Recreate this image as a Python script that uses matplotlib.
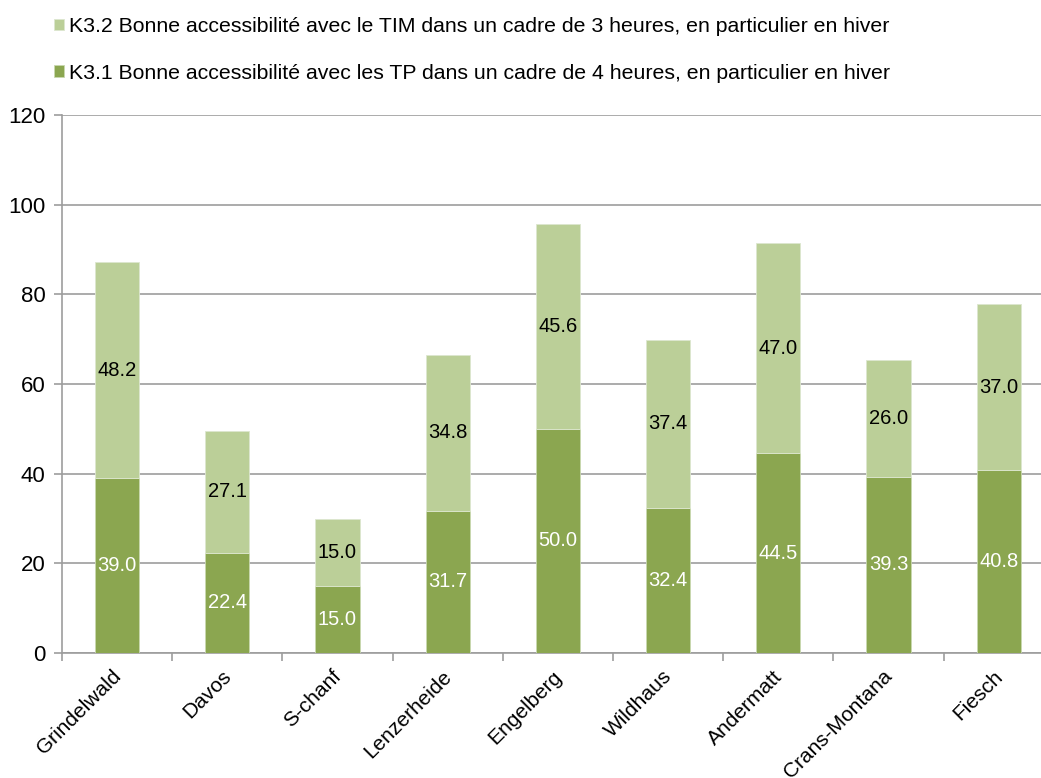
import matplotlib
matplotlib.use("Agg")
import matplotlib.pyplot as plt
import matplotlib.transforms as mtransforms
import numpy as np

plt.rcParams['font.family'] = ['Liberation Sans', 'DejaVu Sans']

categories = ["Grindelwald", "Davos", "S-chanf", "Lenzerheide", "Engelberg",
              "Wildhaus", "Andermatt", "Crans-Montana", "Fiesch"]
k31 = [39.0, 22.4, 15.0, 31.7, 50.0, 32.4, 44.5, 39.3, 40.8]
k32 = [48.2, 27.1, 15.0, 34.8, 45.6, 37.4, 47.0, 26.0, 37.0]
yticks = [0, 20, 40, 60, 80, 100, 120]
label31 = "K3.1 Bonne accessibilité avec les TP dans un cadre de 4 heures, en particulier en hiver"
label32 = "K3.2 Bonne accessibilité avec le TIM dans un cadre de 3 heures, en particulier en hiver"

dark = "#8BA650"
light = "#BBCF98"
grid = "#9D9D9D"

fig = plt.figure(figsize=(10.41, 7.78), dpi=100)
ax = fig.add_axes([62/1041, 1-653/778, 991.8/1041, (653-115)/778])

x = np.arange(len(categories))
w = 0.4
b1 = ax.bar(x, k31, width=w, color=dark, edgecolor="#C9D8B0", linewidth=0.6, zorder=3)
b2 = ax.bar(x, k32, width=w, bottom=k31, color=light, edgecolor="#DDE7CF", linewidth=0.6, zorder=3)

for i in range(len(categories)):
    ax.text(x[i], k31[i]/2, f"{k31[i]:.1f}", ha="center", va="center",
            color="white", fontsize=14.5, zorder=4)
    ax.text(x[i], k31[i] + k32[i]/2, f"{k32[i]:.1f}", ha="center", va="center",
            color="black", fontsize=14.5, zorder=4)

ax.set_yticks(yticks)
ax.set_yticklabels([str(t) for t in yticks], fontsize=16)
ax.yaxis.grid(True, color=grid, linewidth=1.2, zorder=0)
ax.set_axisbelow(True)

ax.set_xticks(x)
ax.set_xticklabels(categories, rotation=45, ha="right", rotation_mode="anchor", fontsize=15)
ax.tick_params(axis="x", length=0, pad=10)
offset = mtransforms.ScaledTranslation(-6/100, 0, fig.dpi_scale_trans)
for lbl in ax.get_xticklabels():
    lbl.set_transform(lbl.get_transform() + offset)
ax.set_xticks(np.arange(-0.5, len(categories)+0.5, 1.0), minor=True)
ax.tick_params(axis="x", which="minor", length=6, color=grid, width=1.2)
ax.tick_params(axis="y", length=6, color=grid, width=1.2, pad=6)
ax.set_ylim(0, 120)
ax.set_xlim(-0.5, len(categories) - 0.5)

for s in ["top", "right"]:
    ax.spines[s].set_visible(False)
for s in ["left", "bottom"]:
    ax.spines[s].set_color(grid)
    ax.spines[s].set_linewidth(1.2)

leg = fig.legend([b2, b1], [label32, label31], loc="upper left",
                 bbox_to_anchor=(54/1041, 1-17/778), frameon=False, fontsize=15.3,
                 handlelength=0.48, handleheight=0.48, handletextpad=0.24,
                 labelspacing=1.3, borderaxespad=0, borderpad=0)

fig.savefig("out.png", dpi=100)
